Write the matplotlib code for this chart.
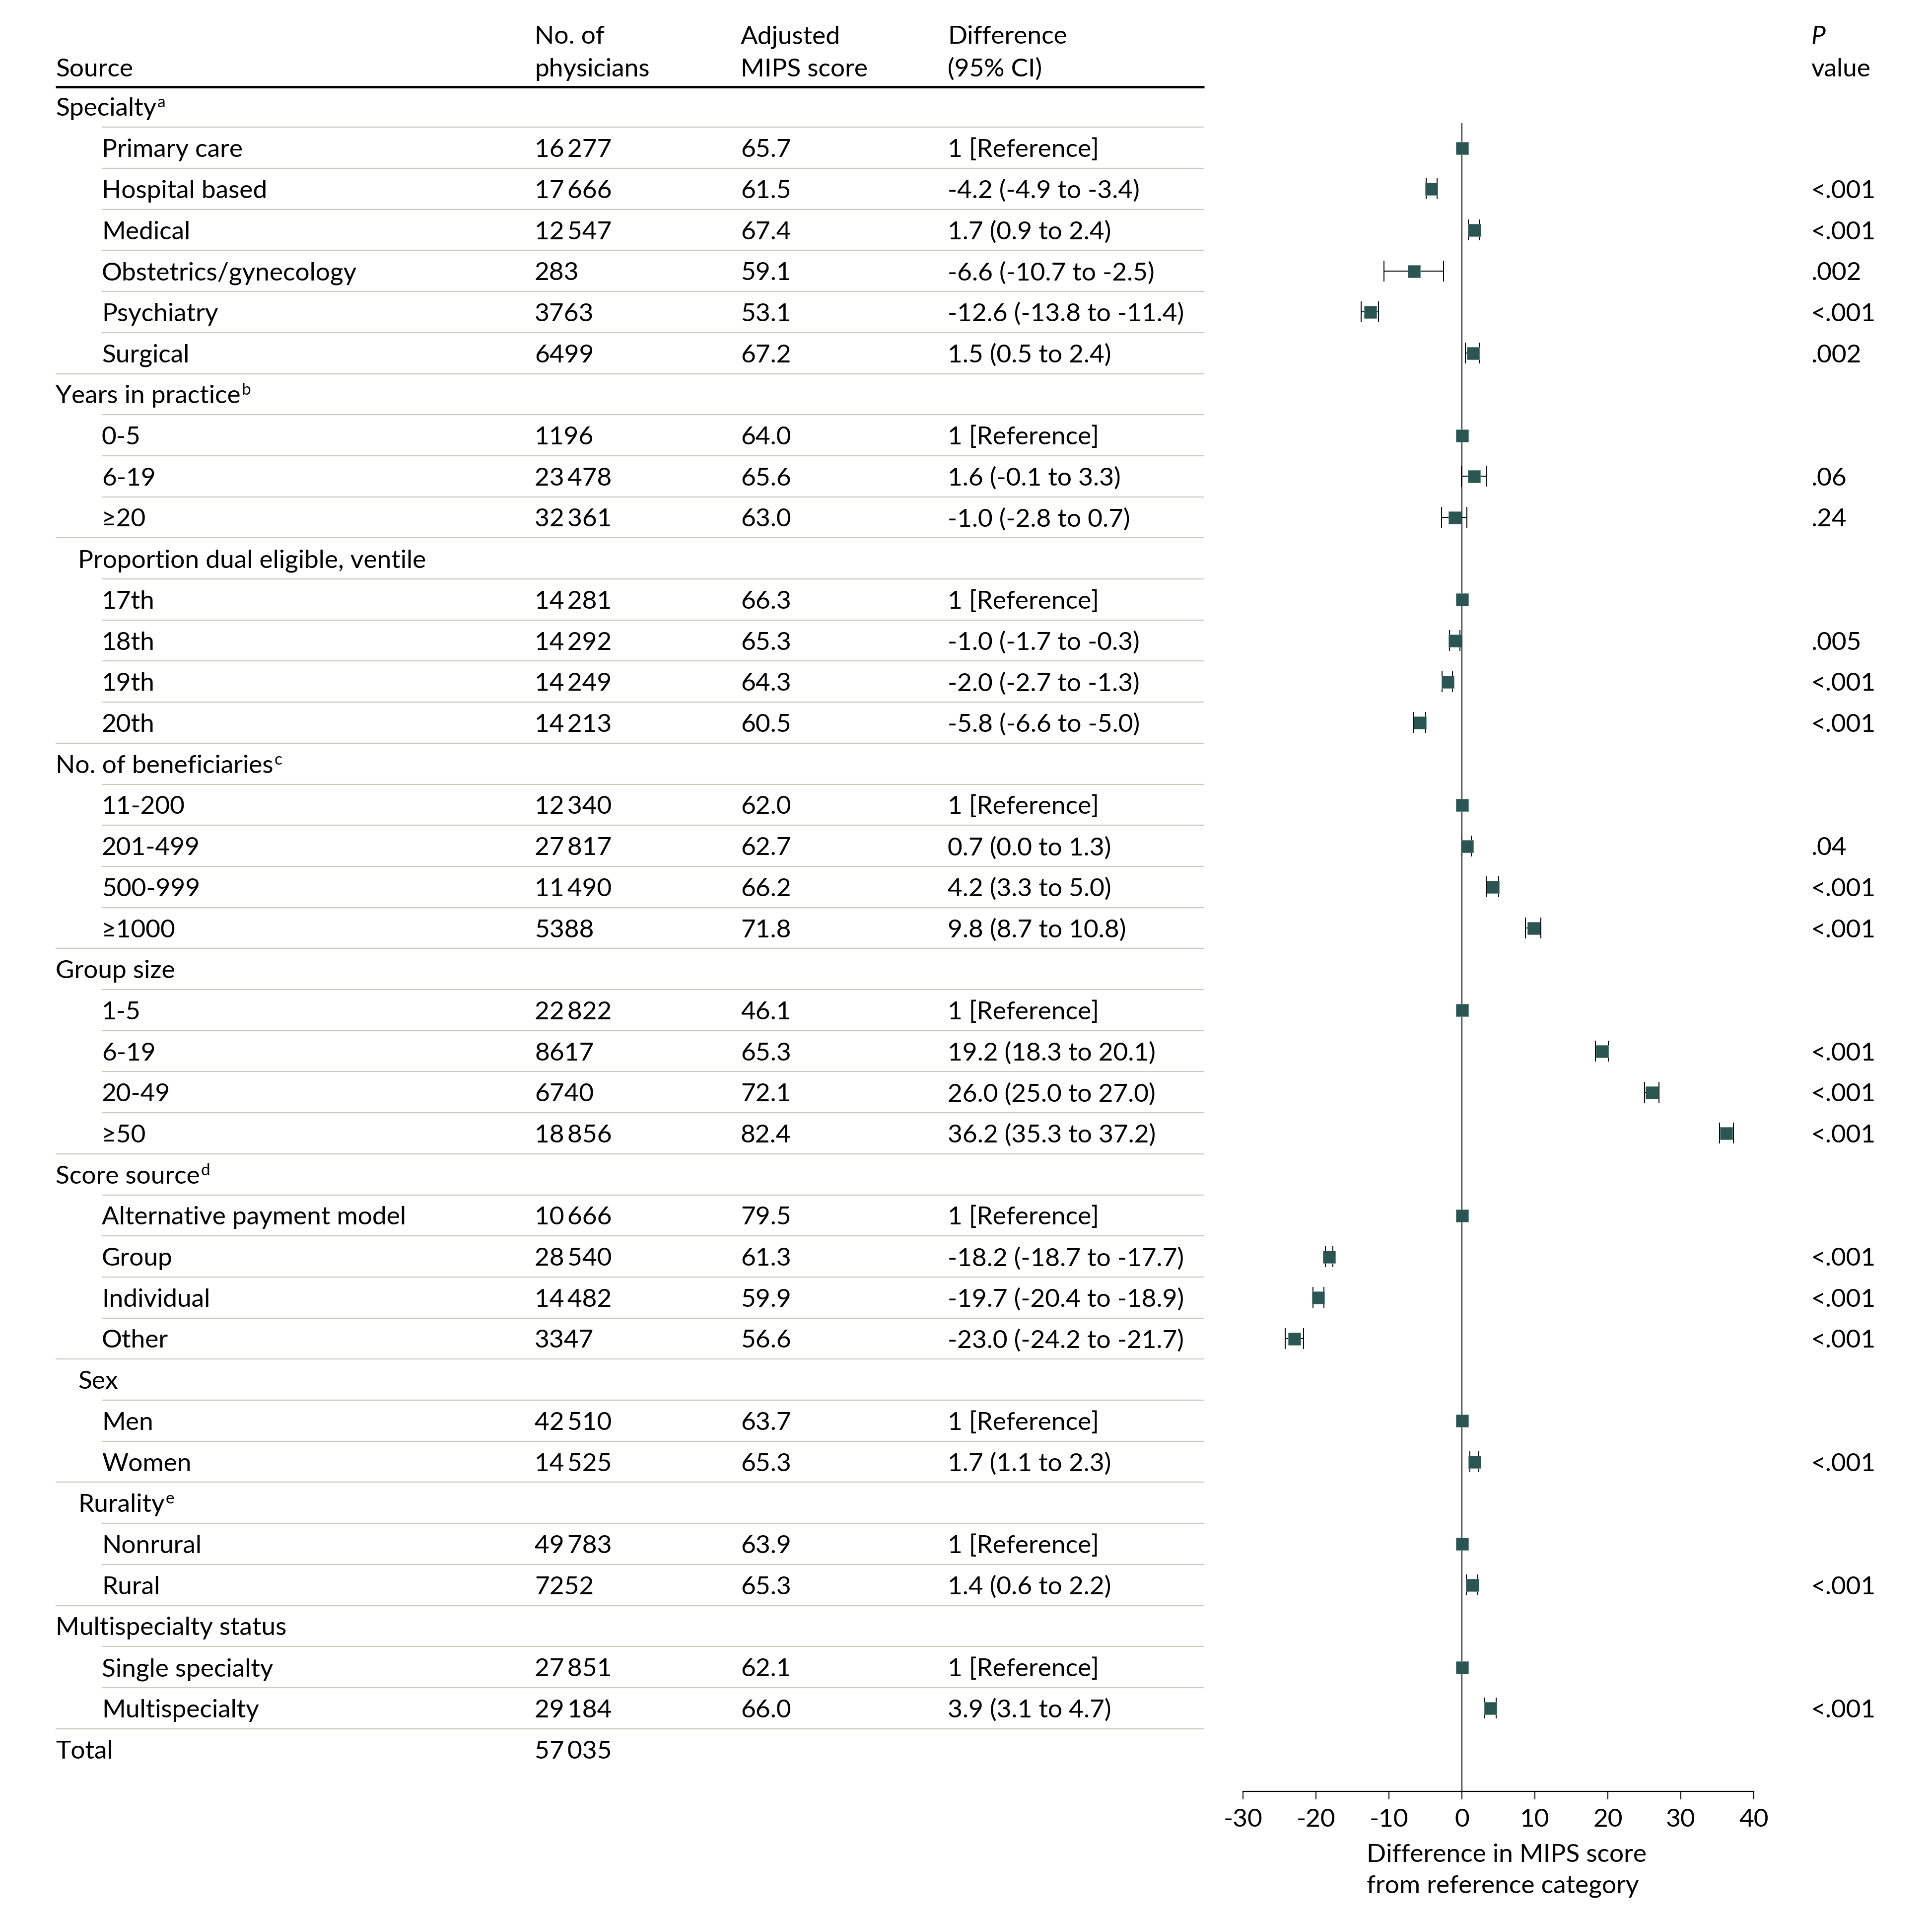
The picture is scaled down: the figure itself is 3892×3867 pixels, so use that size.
import numpy as np
import matplotlib
matplotlib.use("Agg")
import matplotlib.pyplot as plt

plt.rcParams["font.family"] = ["Lato", "DejaVu Sans"]
plt.rcParams["axes.unicode_minus"] = False

# table rows, top to bottom
labels = [
    "Specialty", "Primary care", "Hospital based", "Medical", "Obstetrics/gynecology",
    "Psychiatry", "Surgical",
    "Years in practice", "0-5", "6-19", "≥20",
    "Proportion dual eligible, ventile", "17th", "18th", "19th", "20th",
    "No. of beneficiaries", "11-200", "201-499", "500-999", "≥1000",
    "Group size", "1-5", "6-19", "20-49", "≥50",
    "Score source", "Alternative payment model", "Group", "Individual", "Other",
    "Sex", "Men", "Women",
    "Rurality", "Nonrural", "Rural",
    "Multispecialty status", "Single specialty", "Multispecialty",
    "Total",
]
# cat = group header, cat2 = slightly indented header, ref = reference item
kinds = [
    "cat", "ref", "item", "item", "item", "item", "item",
    "cat", "ref", "item", "item",
    "cat2", "ref", "item", "item", "item",
    "cat", "ref", "item", "item", "item",
    "cat", "ref", "item", "item", "item",
    "cat", "ref", "item", "item", "item",
    "cat2", "ref", "item",
    "cat2", "ref", "item",
    "cat", "ref", "item",
    "total",
]
footnotes = {0: "a", 7: "b", 16: "c", 26: "d", 34: "e"}

n_phys = [
    None, 16277, 17666, 12547, 283, 3763, 6499,
    None, 1196, 23478, 32361,
    None, 14281, 14292, 14249, 14213,
    None, 12340, 27817, 11490, 5388,
    None, 22822, 8617, 6740, 18856,
    None, 10666, 28540, 14482, 3347,
    None, 42510, 14525,
    None, 49783, 7252,
    None, 27851, 29184,
    57035,
]
mips_score = [
    None, 65.7, 61.5, 67.4, 59.1, 53.1, 67.2,
    None, 64.0, 65.6, 63.0,
    None, 66.3, 65.3, 64.3, 60.5,
    None, 62.0, 62.7, 66.2, 71.8,
    None, 46.1, 65.3, 72.1, 82.4,
    None, 79.5, 61.3, 59.9, 56.6,
    None, 63.7, 65.3,
    None, 63.9, 65.3,
    None, 62.1, 66.0,
    None,
]
nan = np.nan
diff = [
    nan, 0, -4.2, 1.7, -6.6, -12.6, 1.5,
    nan, 0, 1.6, -1.0,
    nan, 0, -1.0, -2.0, -5.8,
    nan, 0, 0.7, 4.2, 9.8,
    nan, 0, 19.2, 26.0, 36.2,
    nan, 0, -18.2, -19.7, -23.0,
    nan, 0, 1.7,
    nan, 0, 1.4,
    nan, 0, 3.9,
    nan,
]
ci_low = [
    nan, 0, -4.9, 0.9, -10.7, -13.8, 0.5,
    nan, 0, -0.1, -2.8,
    nan, 0, -1.7, -2.7, -6.6,
    nan, 0, 0.0, 3.3, 8.7,
    nan, 0, 18.3, 25.0, 35.3,
    nan, 0, -18.7, -20.4, -24.2,
    nan, 0, 1.1,
    nan, 0, 0.6,
    nan, 0, 3.1,
    nan,
]
ci_high = [
    nan, 0, -3.4, 2.4, -2.5, -11.4, 2.4,
    nan, 0, 3.3, 0.7,
    nan, 0, -0.3, -1.3, -5.0,
    nan, 0, 1.3, 5.0, 10.8,
    nan, 0, 20.1, 27.0, 37.2,
    nan, 0, -17.7, -18.9, -21.7,
    nan, 0, 2.3,
    nan, 0, 2.2,
    nan, 0, 4.7,
    nan,
]
p_values = [
    "", "", "<.001", "<.001", ".002", "<.001", ".002",
    "", "", ".06", ".24",
    "", "", ".005", "<.001", "<.001",
    "", "", ".04", "<.001", "<.001",
    "", "", "<.001", "<.001", "<.001",
    "", "", "<.001", "<.001", "<.001",
    "", "", "<.001",
    "", "", "<.001",
    "", "", "<.001",
    "",
]
x_ticks = [-30, -20, -10, 0, 10, 20, 30, 40]

# layout (pixels)
W, H = 3892, 3867
FS = 37
ROW0, STEP = 215, 82.7
X_N, X_SCORE, X_DIFF, X_P = 1077, 1492, 1909, 3648
TABLE_L, TABLE_R = 112, 2426
indent = {"cat": 112, "cat2": 157, "total": 112, "ref": 205, "item": 205}
line_col = "#c8ccbf"
mark_col = "#2a5553"


def row_y(i):
    return ROW0 + i * STEP


def fmt_n(n):
    if n >= 10000:
        return f"{n:,}".replace(",", "\u2009")
    return str(n)


fig = plt.figure(figsize=(W / 100, H / 100), dpi=100)
bg = fig.add_axes([0, 0, 1, 1])
bg.set_xlim(0, W)
bg.set_ylim(H, 0)
bg.axis("off")

# header
bg.text(TABLE_L, 154, "Source", fontsize=FS, va="baseline")
bg.text(X_N, 88, "No. of", fontsize=FS, va="baseline")
bg.text(X_N, 154, "physicians", fontsize=FS, va="baseline")
bg.text(X_SCORE, 88, "Adjusted", fontsize=FS, va="baseline")
bg.text(X_SCORE, 154, "MIPS score", fontsize=FS, va="baseline")
bg.text(X_DIFF, 88, "Difference", fontsize=FS, va="baseline")
bg.text(X_DIFF, 154, "(95% CI)", fontsize=FS, va="baseline")
bg.text(X_P, 88, "P", fontsize=FS, va="baseline", style="italic")
bg.text(X_P, 154, "value", fontsize=FS, va="baseline")
bg.plot([TABLE_L, TABLE_R], [175, 175], color="black", lw=3.6, solid_capstyle="butt")

# rows
head_texts = {}
for i, lab in enumerate(labels):
    base = row_y(i) + 18.5
    t = bg.text(indent[kinds[i]], base, lab, fontsize=FS, va="baseline")
    if i in footnotes:
        head_texts[i] = t
    if n_phys[i] is not None:
        bg.text(X_N, base, fmt_n(n_phys[i]), fontsize=FS, va="baseline")
    if mips_score[i] is not None:
        bg.text(X_SCORE, base, f"{mips_score[i]:.1f}", fontsize=FS, va="baseline")
    if kinds[i] == "ref":
        bg.text(X_DIFF, base, "1 [Reference]", fontsize=FS, va="baseline")
    elif kinds[i] == "item":
        s = f"{diff[i]:.1f} ({ci_low[i]:.1f} to {ci_high[i]:.1f})"
        bg.text(X_DIFF, base, s, fontsize=FS, va="baseline")
    if p_values[i]:
        bg.text(X_P, base, p_values[i], fontsize=FS, va="baseline")
    if i > 0:
        y = (row_y(i - 1) + row_y(i)) / 2
        x0 = indent[kinds[i]] if kinds[i] in ("ref", "item") else TABLE_L
        bg.plot([x0, TABLE_R], [y, y], color=line_col, lw=1.6, solid_capstyle="butt")

# superscript footnote letters
fig.canvas.draw()
rend = fig.canvas.get_renderer()
inv = bg.transData.inverted()
for i, t in head_texts.items():
    bb = t.get_window_extent(rend)
    x1 = inv.transform((bb.x1, bb.y0))[0]
    bg.text(x1 + 2, row_y(i) + 18.5 - 17, footnotes[i], fontsize=24, va="baseline")

# forest plot
AX_L, AX_R, AX_B, AX_T = 2504, 3533, 3608, 248
ax = fig.add_axes([AX_L / W, 1 - AX_B / H, (AX_R - AX_L) / W, (AX_B - AX_T) / H])
ax.set_facecolor("none")
ax.set_xlim(-30, 40)
ax.set_ylim((AX_B - ROW0) / STEP, (AX_T - ROW0) / STEP)

ax.axvline(0, color="#1a1a1a", lw=1.5, zorder=1)

d = np.array(diff, dtype=float)
lo = np.array(ci_low, dtype=float)
hi = np.array(ci_high, dtype=float)
rows = np.arange(len(labels))
is_item = np.array([k == "item" for k in kinds])
has_mark = ~np.isnan(d)

ax.errorbar(d[is_item], rows[is_item],
            xerr=[d[is_item] - lo[is_item], hi[is_item] - d[is_item]],
            fmt="none", ecolor="black", elinewidth=1.4, capsize=15, capthick=1.4, zorder=2)
ax.plot(d[has_mark], rows[has_mark], linestyle="none", marker="s", markersize=18,
        markerfacecolor=mark_col, markeredgecolor="#6a8f8c", markeredgewidth=0.6, zorder=3)

for side in ["top", "left", "right"]:
    ax.spines[side].set_visible(False)
ax.spines["bottom"].set_linewidth(1.6)
ax.set_yticks([])
ax.set_xticks(x_ticks)
ax.set_xticklabels([str(v) for v in x_ticks])
ax.tick_params(axis="x", length=11.5, width=1.4, labelsize=FS, pad=13)

# axis title
bg.text(2753, 3750, "Difference in MIPS score", fontsize=FS, va="baseline")
bg.text(2753, 3813, "from reference category", fontsize=FS, va="baseline")

fig.savefig("out.png", dpi=100)
